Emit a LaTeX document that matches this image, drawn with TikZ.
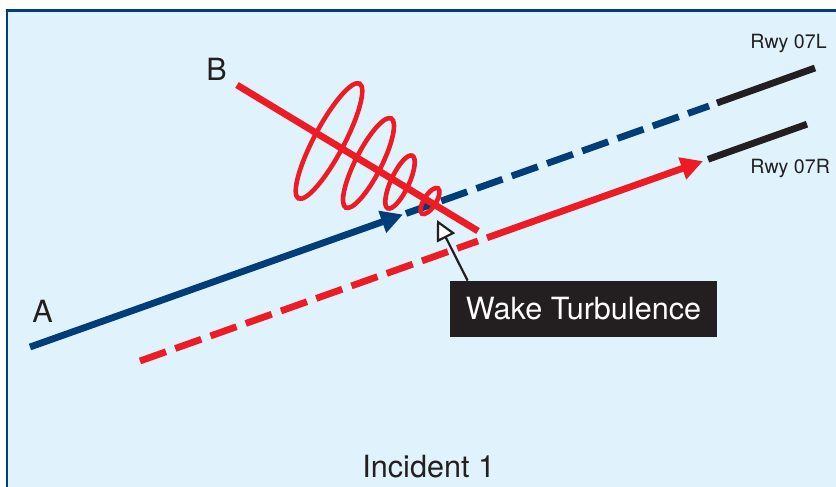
\documentclass[tikz,border=0pt]{standalone}
\usepackage{fontspec}
\setmainfont{TeX Gyre Heros}
\usetikzlibrary{arrows.meta, calc}
\definecolor{panelbg}{RGB}{224,242,251}
\definecolor{pblue}{RGB}{0,61,121}
\definecolor{pred}{RGB}{237,28,36}
\definecolor{rwyblack}{RGB}{35,31,32}

\begin{document}
\begin{tikzpicture}[
        x=0.5pt, y=-0.5pt,
        font=\fontsize{15.3}{18}\selectfont,
        % Styles for the flight paths
        path_a/.style={draw=pblue, line width=3.4pt},
        path_b/.style={draw=pred, line width=3.4pt},
        planned/.style={dash pattern=on 13.8pt off 4.9pt},
        heading/.style={-{Triangle[length=11pt, width=11pt]}},
        runway/.style={draw=rwyblack, line width=3.4pt},
        wake/.style={draw=pred, line width=2.3pt},
        % Styles for labels
        rwylabel/.style={anchor=base west, inner sep=0pt,
            font=\fontsize{9.8}{12}\selectfont, text=rwyblack},
        ptlabel/.style={anchor=base west, inner sep=0pt, text=rwyblack},
        callout/.style={fill=rwyblack, text=white, inner sep=0pt,
            minimum width=133.5pt, minimum height=28pt},
        pointer/.style={draw=rwyblack, line width=1.1pt,
            -{Triangle[fill=white, length=10pt, width=10pt]}}
    ]

    % 1. PANEL
    \useasboundingbox (0,0) rectangle (836,487);
    \clip (0,0) rectangle (836,487);
    \filldraw[fill=panelbg, draw=pblue, line width=1.2pt] (7,10.5) rectangle (860,520);

    % 2. FLIGHT PATHS
    \coordinate (A_start)  at (30,347);
    \coordinate (A_tip)    at (403,214.5);
    \coordinate (A_plan)   at (406,213.5);
    \coordinate (A_end)    at (709,106);
    \coordinate (R_start)  at (140,361);
    \coordinate (R_plan)   at (478,241);
    \coordinate (R_go)     at (487,237.8);
    \coordinate (R_tip)    at (703,161.1);
    \coordinate (B_start)  at (237,85);
    \coordinate (B_end)    at (478,231);

    % aircraft A
    \draw[path_a, heading]  (A_start) -- (A_tip);
    \draw[path_a, planned]  (A_plan) -- (A_end);

    % second aircraft on 07R
    \draw[path_b, planned]  (R_start) -- (R_plan);
    \draw[path_b, heading]  (R_go) -- (R_tip);

    % aircraft B
    \draw[path_b] (B_start) -- (B_end);

    % 3. WAKE VORTEX LOOPS
    \foreach \cx/\cy/\ra/\rb/\ang in {329/141/65/15/62, 368.5/163/50/13/63,
                                      400/182/29/9/65, 430/201/15/6/58}
        \draw[wake, rotate around={\ang:(\cx,\cy)}] (\cx,\cy) ellipse [x radius=\ra, y radius=\rb];

    % 4. RUNWAYS
    \coordinate (rwyL_a) at (717,103);
    \coordinate (rwyL_b) at (815,68);
    \coordinate (rwyR_a) at (708,159.3);
    \coordinate (rwyR_b) at (807,124.2);
    \draw[runway] (rwyL_a) -- (rwyL_b);
    \draw[runway] (rwyR_a) -- (rwyR_b);

    \node[rwylabel] (rwyL_lbl) at (750,48)  {Rwy 07L};
    \node[rwylabel] (rwyR_lbl) at (750,173) {Rwy 07R};

    % 5. LABELS
    \node[ptlabel] (lbl_A)    at (32,322)  {A};
    \node[ptlabel] (lbl_B)    at (206,80)  {B};
    \node[ptlabel] (incident) at (362,477) {Incident 1};

    % callout
    \coordinate (wakeTip) at (437,220);
    \node[callout] (wakeBox) at (583.5,309) {Wake Turbulence};
    \draw[pointer] ([xshift=9pt]wakeBox.north west) -- (wakeTip);

\end{tikzpicture}
\end{document}
